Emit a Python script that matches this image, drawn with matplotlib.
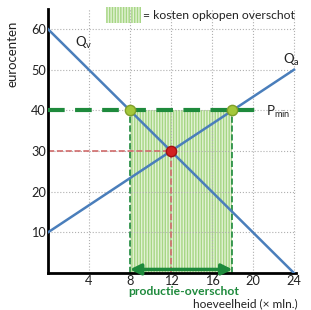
import numpy as np
import matplotlib.pyplot as plt
from matplotlib.patches import Rectangle

# data
q = [0, 24]
vraag = [60, 0]        # Qv
aanbod = [10, 50]      # Qa
p_min = 40
q_vraag_min = 8
q_aanbod_min = 18
q_eq = 12
p_eq = 30
xticks = [4, 8, 12, 16, 20, 24]
yticks = [10, 20, 30, 40, 50, 60]

plt.rcParams['font.family'] = ['Lato', 'DejaVu Sans']
plt.rcParams['hatch.linewidth'] = 1.0
plt.rcParams['hatch.color'] = '#a6d684'

fig = plt.figure(figsize=(3.11, 3.10), dpi=100)
ax = fig.add_axes([0.154, 0.119, 0.798, 0.853])
ax.set_xlim(0, 24.2)
ax.set_ylim(0, 65)

ax.set_xticks(xticks)
ax.set_yticks(yticks)
ax.tick_params(length=0, labelsize=9.2, colors='#222222', pad=1.5)
ax.grid(True, linestyle=':', color='#b0b0b0', linewidth=0.8)
for s in ['top', 'right']:
    ax.spines[s].set_visible(False)
for s in ['left', 'bottom']:
    ax.spines[s].set_linewidth(2)
    ax.spines[s].set_color('black')

# overschot area
ax.add_patch(Rectangle((q_vraag_min, 0), q_aanbod_min - q_vraag_min, p_min,
                       facecolor='#e2f2d4', edgecolor='#a6d684', hatch='||||||',
                       linewidth=0, zorder=1))

# dashed helpers
ax.plot([q_vraag_min, q_vraag_min], [0, p_min], ls='--', color='#1e8a3c', lw=1.2, zorder=2)
ax.plot([q_aanbod_min, q_aanbod_min], [0, p_min], ls='--', color='#1e8a3c', lw=1.2, zorder=2)
ax.plot([0, q_eq], [p_eq, p_eq], ls='--', color='#d06b6b', lw=1.2, zorder=2)
ax.plot([q_eq, q_eq], [0, p_eq], ls='--', color='#d06b6b', lw=1.2, zorder=2)
ax.plot([0, 21], [p_min, p_min], ls=(0, (4, 2.5)), color='#1e8a3c', lw=3, zorder=3)

# curves
ax.plot(q, vraag, color='#4a7ebb', lw=1.8, zorder=4)
ax.plot(q, aanbod, color='#4a7ebb', lw=1.8, zorder=4)

# points
ax.scatter([q_vraag_min, q_aanbod_min], [p_min, p_min], s=55, color='#a4c83a',
           edgecolor='#7f9e2a', zorder=5)
ax.scatter([q_eq], [p_eq], s=55, color='#d42020', edgecolor='#a01010', zorder=5)

# arrow
ax.annotate('', xy=(q_vraag_min, 0.9), xytext=(q_aanbod_min, 0.9),
            arrowprops=dict(arrowstyle='<|-|>', color='#1e8a3c', lw=2.5,
                            mutation_scale=16, shrinkA=0, shrinkB=0),
            annotation_clip=False, zorder=6)

# labels
ax.text(2.6, 55.5, r'Q$_\mathregular{v}$', fontsize=9.5, color='#222222')
ax.text(22.9, 51.5, r'Q$_\mathregular{a}$', fontsize=9.5, color='#222222')
ax.text(21.3, 38.6, r'P$_\mathregular{min}$', fontsize=9.5, color='#222222')
ax.text(13.2, -5.5, 'productie-overschot', fontsize=8.7, color='#1e8a3c',
        fontweight='bold', ha='center', va='baseline')
ax.text(24.4, -8.5, 'hoeveelheid (× mln.)', fontsize=8.6, color='#222222',
        ha='right', va='baseline')
ax.set_ylabel('eurocenten', fontsize=9.5, color='#222222')
ax.yaxis.set_label_coords(-0.12, 0.83)

# legend box
ax.add_patch(Rectangle((5.7, 61.5), 3.4, 3.9, facecolor='#e2f2d4', edgecolor='#a6d684',
                       hatch='||||||', linewidth=0, clip_on=False, zorder=1))
ax.text(9.3, 63.4, '= kosten opkopen overschot', fontsize=8.7, color='#222222',
        va='center')

fig.savefig('out.png', dpi=100)
